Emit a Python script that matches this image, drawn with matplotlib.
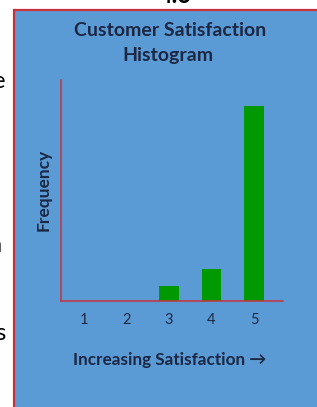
import matplotlib.pyplot as plt
import matplotlib.patches as patches

# data
ratings = [1, 2, 3, 4, 5]
tick_labels = ["1", "2", "3", "4", "5"]
frequency = [0, 0, 1, 2.1, 13]

W, H = 317, 407
BLUE = "#5B9BD5"
RED = "#C8313A"
NAVY = "#1B2743"
GREEN = "#009A00"
FONT = ["Lato", "DejaVu Sans"]


def fx(px):
    return px / W


def fy(py):
    return 1 - py / H


fig = plt.figure(figsize=(W / 100, H / 100), dpi=100)
fig.patch.set_facecolor("white")

# blue panel with red border, running off the right and bottom edges
panel = patches.Rectangle((fx(13.5), fy(420)), fx(330), fy(9.5) - fy(420),
                          transform=fig.transFigure, facecolor=BLUE,
                          edgecolor=RED, linewidth=1.6, zorder=-1)
fig.patches.append(panel)

# fragments of surrounding slide text
fig.text(fx(175), fy(-4), "4.6", ha="center", va="center", fontsize=17,
         fontweight="bold", family=FONT, color="black")
fig.text(fx(5), fy(81), "e", ha="right", va="center", fontsize=17,
         family=FONT, color="black")
fig.text(fx(2), fy(245), "n", ha="right", va="center", fontsize=17,
         family=FONT, color="black")
fig.text(fx(5), fy(333), "s", ha="right", va="center", fontsize=17,
         family=FONT, color="black")

# titles
fig.text(fx(170), fy(31), "Customer Satisfaction", ha="center", va="center",
         fontsize=14, fontweight="bold", family=FONT, color=NAVY)
fig.text(fx(168), fy(56), "Histogram", ha="center", va="center",
         fontsize=14, fontweight="bold", family=FONT, color=NAVY)

ax = fig.add_axes([fx(60.7), fy(300.7), fx(283) - fx(60.7), fy(80.5) - fy(300.7)])
ax.patch.set_alpha(0)
ax.bar(ratings, frequency, width=0.456, color=GREEN, zorder=2)
ax.set_xlim(0.46, 5.68)
ax.set_ylim(0, 14.7)

for side in ["top", "right"]:
    ax.spines[side].set_visible(False)
for side in ["left", "bottom"]:
    ax.spines[side].set_color(RED)
    ax.spines[side].set_linewidth(1.1)

ax.set_xticks(ratings)
ax.set_xticklabels(tick_labels, family=FONT, fontsize=10.5, color=NAVY)
ax.tick_params(axis="x", length=0, pad=9)
ax.set_yticks([])

fig.text(fx(170), fy(360), "Increasing Satisfaction \u2192", ha="center",
         va="center", fontsize=12.3, fontweight="bold", family=FONT, color=NAVY)
fig.text(fx(44), fy(190), "Frequency", ha="center", va="center", rotation=90,
         fontsize=12.5, fontweight="bold", family=FONT, color=NAVY)

fig.savefig("out.png", dpi=100)
